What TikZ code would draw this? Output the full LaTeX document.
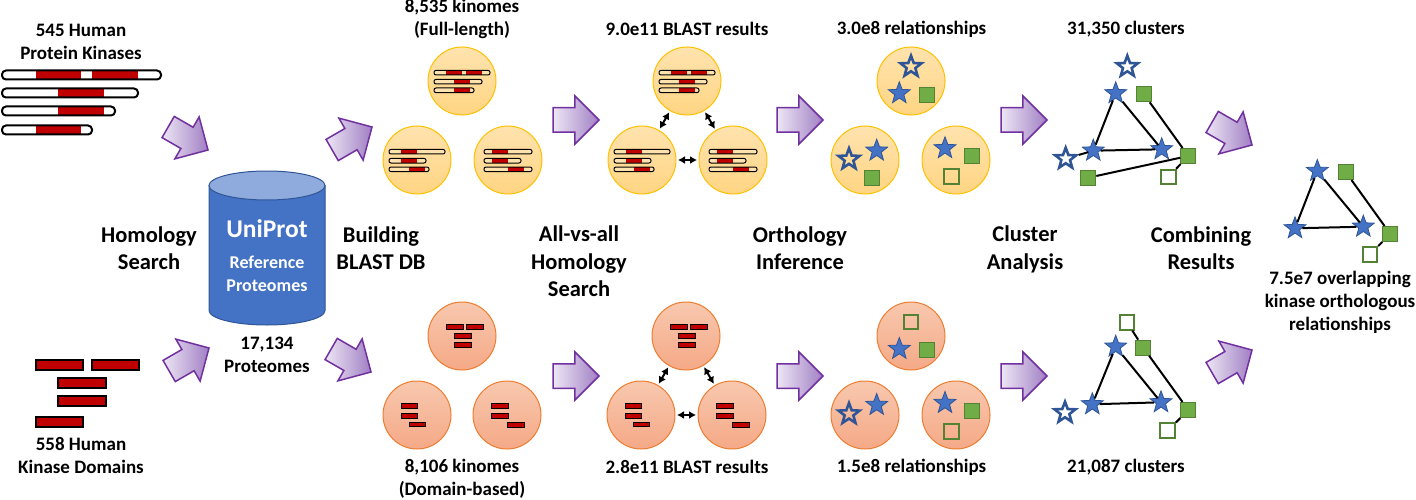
\documentclass[tikz,border=0pt]{standalone}
\usepackage{fontspec}
\setmainfont{Carlito}
\usetikzlibrary{arrows.meta,shapes.geometric,shapes.arrows}

\definecolor{kinred}{HTML}{C00000}
\definecolor{flowlight}{HTML}{EDE6F4}
\definecolor{flowdark}{HTML}{A17FC4}
\definecolor{flowline}{HTML}{7030A0}
\definecolor{dbblue}{HTML}{4472C4}
\definecolor{dbtop}{HTML}{8FAADC}
\definecolor{dbline}{HTML}{2F5597}
\definecolor{leafgreen}{HTML}{70AD47}
\definecolor{leafline}{HTML}{548235}
\definecolor{ylight}{HTML}{FFE3AE}
\definecolor{ydark}{HTML}{FFD583}
\definecolor{yline}{HTML}{FFC000}
\definecolor{olight}{HTML}{F8C8AE}
\definecolor{odark}{HTML}{F5A987}
\definecolor{oline}{HTML}{ED7D31}

% kinase strips: from, to, y, red stretches
\newcommand{\bigstrip}[4]{
  \fill[white,rounded corners=4pt] (#1,#3-4.5) rectangle (#2,#3+4.5);
  \foreach \ra/\rb in {#4} \fill[kinred] (\ra,#3-4.5) rectangle (\rb,#3+4.5);
  \draw[line width=2pt,rounded corners=4pt] (#1,#3-4.5) rectangle (#2,#3+4.5);
}
\newcommand{\ministrip}[4]{
  \fill[ylight,rounded corners=2pt] (#1,#3-2.3) rectangle (#2,#3+2.3);
  \foreach \ra/\rb in {#4} \fill[kinred] (\ra,#3-2.3) rectangle (\rb,#3+2.3);
  \draw[line width=1pt,rounded corners=2pt] (#1,#3-2.3) rectangle (#2,#3+2.3);
}
\newcommand{\minibar}[3]{\draw[fill=kinred,line width=1pt] (#1,#3-2.3) rectangle (#2,#3+2.3);}

\tikzset{
  numlabel/.style={align=center,inner sep=0pt,font=\fontsize{19}{23}\selectfont\bfseries},
  steplabel/.style={align=center,inner sep=0pt,font=\fontsize{22.5}{27.5}\selectfont\bfseries},
  flowarrow/.style={single arrow,anchor=tip,inner xsep=0pt,inner ysep=11.5pt,outer sep=0pt,minimum height=46pt,minimum width=47pt,
    single arrow head extend=12pt,single arrow tip angle=90,single arrow head indent=0pt,
    draw=flowline,line width=1.5pt,left color=flowlight,right color=flowdark},
  ykin/.style={circle,inner sep=0pt,minimum size=68pt,draw=yline,line width=1pt,top color=ylight,bottom color=ydark},
  okin/.style={circle,inner sep=0pt,minimum size=68pt,draw=oline,line width=1pt,top color=olight,bottom color=odark},
  hit/.style={{Latex[length=7pt,width=8pt]}-{Latex[length=7pt,width=8pt]},line width=2pt,shorten >=1.5pt,shorten <=1.5pt},
  tie/.style={line width=2pt},
  fullstar/.style={star,star points=5,star point ratio=2.4,inner sep=0pt,minimum size=23pt,fill=dbblue,draw=dbline,line width=.8pt},
  openstar/.style={star,star points=5,star point ratio=2.4,inner sep=0pt,minimum size=22pt,draw=dbline,line width=2.6pt},
  fullsq/.style={rectangle,inner sep=0pt,minimum size=15pt,fill=leafgreen,draw=leafline,line width=1pt},
  opensq/.style={rectangle,inner sep=0pt,minimum size=14.5pt,draw=leafline,line width=2pt},
  pics/fulltop/.style={code={
    \ministrip{-28}{28}{-8.3}{-16/0,4/20}
    \ministrip{-28}{20}{0.7}{-7.7/8}
    \ministrip{-28}{12}{9.3}{-7.7/8}
  }},
  pics/fullleft/.style={code={
    \ministrip{-28}{28}{-8.3}{-16/0}
    \ministrip{-28}{9}{0.7}{-16/0}
    \ministrip{-28}{12}{9.3}{-8/8}
  }},
  pics/fullright/.style={code={
    \ministrip{-24}{24}{-8.3}{-16/0}
    \ministrip{-24}{13}{0.7}{-16/0}
    \ministrip{-24}{24}{9.3}{0/16}
  }},
  pics/domtop/.style={code={
    \minibar{-16}{1}{-9}\minibar{4}{21}{-9}
    \minibar{-8}{9}{0}
    \minibar{-8}{9}{9}
  }},
  pics/domleft/.style={code={
    \minibar{-16}{0}{-9}
    \minibar{-16}{0}{0.7}
    \minibar{-8}{8}{9.3}
  }},
  pics/domright/.style={code={
    \minibar{-16}{1}{-9}
    \minibar{-16}{1}{0.7}
    \minibar{0}{17}{9.7}
  }}
}

\begin{document}
\begin{tikzpicture}[x=1pt,y=-1pt]
  \useasboundingbox (0,0) rectangle (1416,500);

  % human kinase inputs
  \bigstrip{2}{161}{75}{36/81,92/138}
  \bigstrip{2}{138}{93}{58/104}
  \bigstrip{2}{115}{111}{58/104}
  \bigstrip{2}{92}{130}{36/81}
  \draw[fill=kinred,line width=2pt] (36,360) rectangle (83,370);
  \draw[fill=kinred,line width=2pt] (92,360) rectangle (139,370);
  \draw[fill=kinred,line width=2pt] (58,378) rectangle (106,388);
  \draw[fill=kinred,line width=2pt] (58,396) rectangle (106,406);
  \draw[fill=kinred,line width=2pt] (36,417) rectangle (83,427);

  \node[numlabel] (humanfull) at (81,41.5) {545 Human\\Protein Kinases};
  \node[numlabel] (humandom) at (81,455.5) {558 Human\\Kinase Domains};

  % reference proteome database
  \draw[fill=dbblue,draw=dbline,line width=1pt] (209,185.5) -- (209,310.5)
    arc[start angle=180,end angle=360,x radius=58pt,y radius=14.5pt] -- (325,185.5) -- cycle;
  \draw[fill=dbtop,draw=dbline,line width=1pt] (267,185.5) ellipse [x radius=58pt,y radius=14.5pt];
  \node[inner sep=0pt,text=white,font=\fontsize{25.5}{30}\selectfont\bfseries] (unititle) at (267,229) {UniProt};
  \node[align=center,inner sep=0pt,text=white,font=\fontsize{18}{23}\selectfont\bfseries] (unisub) at (267,273.5) {Reference\\Proteomes};
  \node[numlabel] (proteomes) at (267,354.5) {17,134\\Proteomes};

  % step names
  \node[steplabel] (stephom) at (149,248) {Homology\\Search};
  \node[steplabel] (stepdb) at (381,248) {Building\\BLAST DB};
  \node[steplabel] (stepall) at (579,261.5) {All-vs-all\\Homology\\Search};
  \node[steplabel] (steporth) at (800,248) {Orthology\\Inference};
  \node[steplabel] (stepclu) at (1025,249.5) {Cluster\\Analysis};
  \node[steplabel] (stepcomb) at (1201,248) {Combining\\Results};

  % flow arrows
  \node[flowarrow,rotate=-30] (flow1) at (208,150) {};
  \node[flowarrow,rotate=30] (flow2) at (209,348) {};
  \node[flowarrow,rotate=30] (flow3) at (372,127) {};
  \node[flowarrow,rotate=-30] (flow4) at (371,372) {};
  \node[flowarrow] (flow5) at (599,120) {};
  \node[flowarrow] (flow6) at (823,120) {};
  \node[flowarrow] (flow7) at (1047,120) {};
  \node[flowarrow] (flow8) at (599,376) {};
  \node[flowarrow] (flow9) at (823,376) {};
  \node[flowarrow] (flow10) at (1047,376) {};
  \node[flowarrow,rotate=-30] (flow11) at (1252,145) {};
  \node[flowarrow,rotate=30] (flow12) at (1252,350) {};

  % kinomes
  \node[ykin] (ft) at (462,81) {};
  \node[ykin] (fl) at (417,160) {};
  \node[ykin] (fr) at (508,160) {};
  \node[okin] (dt) at (462,336) {};
  \node[okin] (dl) at (417,415) {};
  \node[okin] (dr) at (507,415) {};
  \pic at (ft) {fulltop};
  \pic at (fl) {fullleft};
  \pic at (fr) {fullright};
  \pic at (dt) {domtop};
  \pic at (dl) {domleft};
  \pic at (dr) {domright};
  \node[numlabel] (kinfull) at (462,18.5) {8,535 kinomes\\(Full-length)};
  \node[numlabel] (kindom) at (462,478.5) {8,106 kinomes\\(Domain-based)};

  % all-vs-all
  \node[ykin] (bft) at (687,81) {};
  \node[ykin] (bfl) at (642,160) {};
  \node[ykin] (bfr) at (733,160) {};
  \node[okin] (bdt) at (686,336) {};
  \node[okin] (bdl) at (641,415) {};
  \node[okin] (bdr) at (732,415) {};
  \pic at (bft) {fulltop};
  \pic at (bfl) {fullleft};
  \pic at (bfr) {fullright};
  \pic at (bdt) {domtop};
  \pic at (bdl) {domleft};
  \pic at (bdr) {domright};
  \draw[hit] (bft) -- (bfl);
  \draw[hit] (bft) -- (bfr);
  \draw[hit] (bfl) -- (bfr);
  \draw[hit] (bdt) -- (bdl);
  \draw[hit] (bdt) -- (bdr);
  \draw[hit] (bdl) -- (bdr);
  \node[numlabel] (blastfull) at (687,29) {9.0e11 BLAST results};
  \node[numlabel] (blastdom) at (687,467) {2.8e11 BLAST results};

  % orthology inference
  \node[ykin] (oft) at (911,81) {};
  \node[ykin] (ofl) at (865,160) {};
  \node[ykin] (ofr) at (956,160) {};
  \node[okin] (odt) at (911,336) {};
  \node[okin] (odl) at (865,415) {};
  \node[okin] (odr) at (956,415) {};
  \node[openstar] (oft1) at (911,66.7) {};
  \node[fullstar] (oft2) at (899.3,93.3) {};
  \node[fullsq] (oft3) at (927.3,94.7) {};
  \node[openstar] (ofl1) at (849,159.3) {};
  \node[fullstar] (ofl2) at (876.7,150.7) {};
  \node[fullsq] (ofl3) at (872,177.7) {};
  \node[fullstar] (ofr1) at (945,148.3) {};
  \node[fullsq] (ofr2) at (972,156) {};
  \node[opensq] (ofr3) at (951.7,176.7) {};
  \node[opensq] (odt1) at (911,322) {};
  \node[fullstar] (odt2) at (899.3,349) {};
  \node[fullsq] (odt3) at (927.3,350) {};
  \node[openstar] (odl1) at (849,414) {};
  \node[fullstar] (odl2) at (876.7,405) {};
  \node[fullstar] (odr1) at (945,403) {};
  \node[fullsq] (odr2) at (972,411) {};
  \node[opensq] (odr3) at (951.7,431.5) {};
  \node[numlabel] (relfull) at (911.5,29) {3.0e8 relationships};
  \node[numlabel] (reldom) at (911.5,467) {1.5e8 relationships};

  % clusters, full-length
  \node[openstar] (ca) at (1127.3,66.7) {};
  \node[fullstar] (cb) at (1115.7,93.3) {};
  \node[fullsq] (cc) at (1144,94.3) {};
  \node[fullstar] (cd) at (1093.3,150.7) {};
  \node[fullstar] (ce) at (1161.7,149.3) {};
  \node[openstar] (cf) at (1065.7,158.7) {};
  \node[fullsq] (cg) at (1188.3,156) {};
  \node[fullsq] (ch) at (1088.3,177.7) {};
  \node[opensq] (ci) at (1168.3,177) {};
  \draw[tie] (cb) -- (cd);
  \draw[tie] (cb) -- (ce);
  \draw[tie] (cd) -- (ce);
  \draw[tie] (cf) -- (cd);
  \draw[tie] (cc) -- (cg);
  \draw[tie] (ch) -- (cg);
  \draw[tie] (ci) -- (cg);
  \node[numlabel] (clufull) at (1126,29) {31,350 clusters};

  % clusters, domain-based
  \node[opensq] (ga) at (1127,322.3) {};
  \node[fullsq] (gb) at (1143.3,347.7) {};
  \node[fullstar] (gc) at (1115.7,346.7) {};
  \node[fullstar] (gd) at (1092.3,404.3) {};
  \node[fullstar] (ge) at (1161,402.3) {};
  \node[openstar] (gf) at (1065,412.7) {};
  \node[fullsq] (gg) at (1188.3,410) {};
  \node[opensq] (gh) at (1167.7,430.7) {};
  \draw[tie] (gc) -- (gd);
  \draw[tie] (gc) -- (ge);
  \draw[tie] (gd) -- (ge);
  \draw[tie] (ga) -- (gb);
  \draw[tie] (gb) -- (gg);
  \draw[tie] (gg) -- (gh);
  \node[numlabel] (cludom) at (1126,467) {21,087 clusters};

  % overlap of both
  \node[fullstar] (ra) at (1317.3,171) {};
  \node[fullsq] (rb) at (1345.7,172) {};
  \node[fullstar] (rc) at (1295,228.3) {};
  \node[fullstar] (rd) at (1363.3,226.7) {};
  \node[fullsq] (re) at (1390.3,234) {};
  \node[opensq] (rf) at (1370,254.3) {};
  \draw[tie] (ra) -- (rc);
  \draw[tie] (ra) -- (rd);
  \draw[tie] (rc) -- (rd);
  \draw[tie] (rb) -- (re);
  \draw[tie] (re) -- (rf);
  \node[numlabel] (overlap) at (1340,302) {7.5e7 overlapping\\kinase orthologous\\relationships};
\end{tikzpicture}
\end{document}
